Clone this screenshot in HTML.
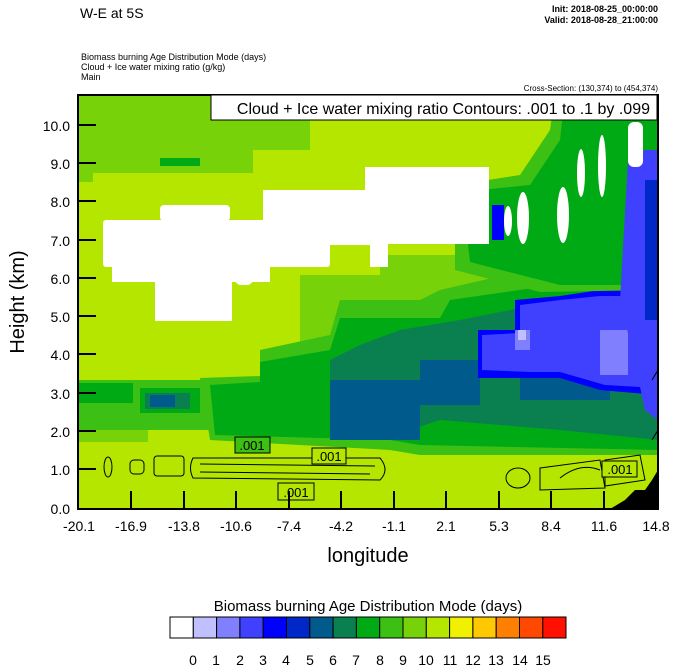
<!DOCTYPE html>
<html><head><style>
body{margin:0;background:#fff;}
svg text{font-family:"Liberation Sans",sans-serif;}
</style></head><body>
<svg width="674" height="667" xmlns="http://www.w3.org/2000/svg">
<text x="80" y="18" font-size="14">W-E at 5S</text>
<text x="658" y="12" font-size="9" text-anchor="end" font-weight="bold">Init: 2018-08-25_00:00:00</text>
<text x="658" y="23" font-size="9" text-anchor="end" font-weight="bold">Valid: 2018-08-28_21:00:00</text>
<text x="81" y="60" font-size="9">Biomass burning Age Distribution Mode    (days)</text>
<text x="81" y="70" font-size="9">Cloud + Ice water mixing ratio    (g/kg)</text>
<text x="81" y="80" font-size="9">Main</text>
<text x="658" y="91" font-size="8" text-anchor="end">Cross-Section: (130,374) to (454,374)</text>
<clipPath id="c"><rect x="78" y="95" width="580" height="414"/></clipPath>
<g clip-path="url(#c)">
<rect x="78" y="95" width="580" height="414" fill="#b4e600"/>
<rect x="78" y="95" width="232" height="55" fill="#78d20a"/>
<rect x="78" y="150" width="175" height="23" fill="#78d20a"/>
<rect x="78" y="170" width="15" height="12" fill="#78d20a"/>
<rect x="160" y="158" width="40" height="8" fill="#00aa14"/>
<rect x="300" y="275" width="358" height="70" fill="#78d20a"/>
<rect x="380" y="255" width="278" height="30" fill="#78d20a"/>
<rect x="78" y="380" width="580" height="50" fill="#3cc014"/>
<rect x="78" y="430" width="70" height="12" fill="#78d20a"/>
<rect x="78" y="383" width="55" height="20" fill="#00aa14"/>
<rect x="140" y="388" width="60" height="25" fill="#00aa14"/>
<rect x="145" y="393" width="45" height="16" fill="#0a8050"/>
<rect x="150" y="395" width="25" height="12" fill="#005a8c"/>
<polygon points="200,378 260,376 260,350 330,335 340,300 420,300 440,290 658,240 658,455 420,455 390,450 210,440" fill="#3cc014"/>
<polygon points="210,385 260,382 260,362 330,350 340,318 440,318 450,300 658,270 658,450 420,445 390,440 215,435" fill="#00aa14"/>
<polygon points="330,360 360,345 400,330 460,320 560,300 658,285 658,440 560,430 440,420 380,440 330,440" fill="#0a8050"/>
<rect x="330" y="380" width="90" height="60" fill="#005a8c"/>
<rect x="420" y="360" width="60" height="45" fill="#005a8c"/>
<rect x="520" y="345" width="90" height="55" fill="#005a8c"/>
<polygon points="478,330 515,330 515,300 560,296 600,290 658,290 658,395 600,390 560,378 530,378 478,378" fill="#0000ff"/>
<polygon points="482,335 520,333 520,305 560,300 600,296 658,296 658,388 605,385 560,372 530,372 482,370" fill="#4040ff"/>
<rect x="515" y="330" width="15" height="20" fill="#8080ff"/>
<rect x="600" y="330" width="28" height="45" fill="#8080ff"/>
<rect x="518" y="330" width="8" height="10" fill="#c0c0ff"/>
<polygon points="555,95 658,95 658,290 540,292 455,270 455,185 520,175 550,130" fill="#3cc014"/>
<polygon points="565,95 658,95 658,285 560,285 470,262 462,192 530,185 560,140" fill="#00aa14"/>
<polygon points="628,160 645,150 658,150 658,420 645,410 632,350 620,300" fill="#4040ff"/>
<rect x="645" y="180" width="13" height="140" fill="#0028c8"/>
<rect x="492" y="205" width="12" height="35" fill="#0000ff"/>
<rect x="103" y="220" width="227" height="47" rx="3" fill="#fff"/>
<rect x="112" y="255" width="158" height="27" fill="#fff"/>
<rect x="155" y="270" width="77" height="51" fill="#fff"/>
<rect x="160" y="205" width="70" height="16" rx="4" fill="#fff"/>
<rect x="263" y="190" width="115" height="55" fill="#fff"/>
<rect x="365" y="167" width="124" height="77" fill="#fff"/>
<rect x="370" y="240" width="18" height="27" fill="#fff"/>
<rect x="235" y="240" width="18" height="45" rx="6" fill="#fff"/>
<ellipse cx="508" cy="221" rx="4" ry="15" fill="#fff"/>
<ellipse cx="523" cy="218" rx="6" ry="26" fill="#fff"/>
<ellipse cx="563" cy="215" rx="6" ry="28" fill="#fff"/>
<ellipse cx="581" cy="173" rx="4" ry="24" fill="#fff"/>
<ellipse cx="602" cy="166" rx="4" ry="31" fill="#fff"/>
<rect x="628" y="122" width="15" height="45" rx="6" fill="#fff"/>
<polygon points="610,509 625,500 635,490 645,490 652,480 658,470 658,509" fill="#000"/>
<g fill="none" stroke="#000" stroke-width="1">
<ellipse cx="108" cy="467" rx="4" ry="10"/>
<rect x="130" y="460" width="14" height="14" rx="4"/>
<rect x="154" y="456" width="30" height="20" rx="3"/>
<path d="M193,458 L380,458 Q390,470 380,480 L193,478 Q188,468 193,458Z"/>
<path d="M200,464 L375,466 M200,472 L370,474"/>
<ellipse cx="518" cy="478" rx="12" ry="10"/>
<path d="M540,468 L600,460 L605,488 L540,490Z"/>
<path d="M560,478 Q580,462 600,470"/>
<path d="M605,460 L640,455 L645,480 L605,486Z"/>
<path d="M652,380 L658,370 M652,440 L658,430"/>
</g>
<rect x="235" y="437" width="35" height="16" fill="#3cc014" stroke="#000"/>
<text x="252" y="450" font-size="13" text-anchor="middle">.001</text>
<rect x="312" y="448" width="34" height="16" fill="#b4e600" stroke="#000"/>
<text x="329" y="461" font-size="13" text-anchor="middle">.001</text>
<rect x="278" y="483" width="36" height="17" fill="#b4e600" stroke="#000"/>
<text x="296" y="497" font-size="13" text-anchor="middle">.001</text>
<rect x="602" y="461" width="35" height="16" fill="#b4e600" stroke="#000"/>
<text x="620" y="474" font-size="13" text-anchor="middle">.001</text>
</g>
<rect x="78" y="95" width="580" height="414" fill="none" stroke="#000" stroke-width="2"/>
<rect x="211" y="95" width="446" height="25" fill="#fff" stroke="#000" stroke-width="1"/>
<text x="650" y="114" font-size="16" text-anchor="end">Cloud + Ice water mixing ratio Contours: .001 to .1 by .099</text>
<g stroke="#000" stroke-width="2">
<line x1="78" y1="125" x2="96" y2="125"/><line x1="78" y1="163" x2="96" y2="163"/>
<line x1="78" y1="201" x2="96" y2="201"/><line x1="78" y1="240" x2="96" y2="240"/>
<line x1="78" y1="278" x2="96" y2="278"/><line x1="78" y1="316" x2="96" y2="316"/>
<line x1="78" y1="354" x2="96" y2="354"/><line x1="78" y1="393" x2="96" y2="393"/>
<line x1="78" y1="431" x2="96" y2="431"/><line x1="78" y1="469" x2="96" y2="469"/>
<line x1="131" y1="509" x2="131" y2="491"/><line x1="184" y1="509" x2="184" y2="491"/>
<line x1="236" y1="509" x2="236" y2="491"/><line x1="289" y1="509" x2="289" y2="491"/>
<line x1="341" y1="509" x2="341" y2="491"/><line x1="394" y1="509" x2="394" y2="491"/>
<line x1="446" y1="509" x2="446" y2="491"/><line x1="499" y1="509" x2="499" y2="491"/>
<line x1="551" y1="509" x2="551" y2="491"/><line x1="604" y1="509" x2="604" y2="491"/>
</g>
<g font-size="14" text-anchor="end">
<text x="70" y="131">10.0</text><text x="70" y="169">9.0</text><text x="70" y="207">8.0</text>
<text x="70" y="246">7.0</text><text x="70" y="284">6.0</text><text x="70" y="322">5.0</text>
<text x="70" y="360">4.0</text><text x="70" y="399">3.0</text><text x="70" y="437">2.0</text>
<text x="70" y="475">1.0</text><text x="70" y="514">0.0</text>
</g>
<g font-size="14" text-anchor="middle">
<text x="79" y="531">-20.1</text><text x="131" y="531">-16.9</text><text x="184" y="531">-13.8</text>
<text x="236" y="531">-10.6</text><text x="289" y="531">-7.4</text><text x="341" y="531">-4.2</text>
<text x="394" y="531">-1.1</text><text x="446" y="531">2.1</text><text x="499" y="531">5.3</text>
<text x="551" y="531">8.4</text><text x="604" y="531">11.6</text><text x="656" y="531">14.8</text>
</g>
<text x="368" y="562" font-size="20" text-anchor="middle">longitude</text>
<text transform="translate(24,302) rotate(-90)" font-size="20" text-anchor="middle">Height (km)</text>
<text x="368" y="611" font-size="15" text-anchor="middle">Biomass burning Age Distribution Mode  (days)</text>
<g stroke="#000" stroke-width="1">
<rect x="170" y="617" width="23.3" height="21" fill="#ffffff"/>
<rect x="193.3" y="617" width="23.3" height="21" fill="#c0c0ff"/>
<rect x="216.6" y="617" width="23.3" height="21" fill="#8080ff"/>
<rect x="239.9" y="617" width="23.3" height="21" fill="#4040ff"/>
<rect x="263.2" y="617" width="23.3" height="21" fill="#0000ff"/>
<rect x="286.5" y="617" width="23.3" height="21" fill="#0028c8"/>
<rect x="309.8" y="617" width="23.3" height="21" fill="#005a8c"/>
<rect x="333.1" y="617" width="23.3" height="21" fill="#0a8050"/>
<rect x="356.4" y="617" width="23.3" height="21" fill="#00aa14"/>
<rect x="379.7" y="617" width="23.3" height="21" fill="#3cc014"/>
<rect x="403" y="617" width="23.3" height="21" fill="#78d20a"/>
<rect x="426.3" y="617" width="23.3" height="21" fill="#b4e600"/>
<rect x="449.6" y="617" width="23.3" height="21" fill="#f0f000"/>
<rect x="472.9" y="617" width="23.3" height="21" fill="#ffc800"/>
<rect x="496.2" y="617" width="23.3" height="21" fill="#ff8000"/>
<rect x="519.5" y="617" width="23.3" height="21" fill="#ff4800"/>
<rect x="542.8" y="617" width="23.2" height="21" fill="#ff1000"/>
</g>
<g font-size="14" text-anchor="middle">
<text x="193" y="665">0</text><text x="216" y="665">1</text><text x="240" y="665">2</text>
<text x="263" y="665">3</text><text x="286" y="665">4</text><text x="310" y="665">5</text>
<text x="333" y="665">6</text><text x="356" y="665">7</text><text x="380" y="665">8</text>
<text x="403" y="665">9</text><text x="426" y="665">10</text><text x="450" y="665">11</text>
<text x="473" y="665">12</text><text x="496" y="665">13</text><text x="520" y="665">14</text>
<text x="543" y="665">15</text>
</g>
</svg>
</body></html>
